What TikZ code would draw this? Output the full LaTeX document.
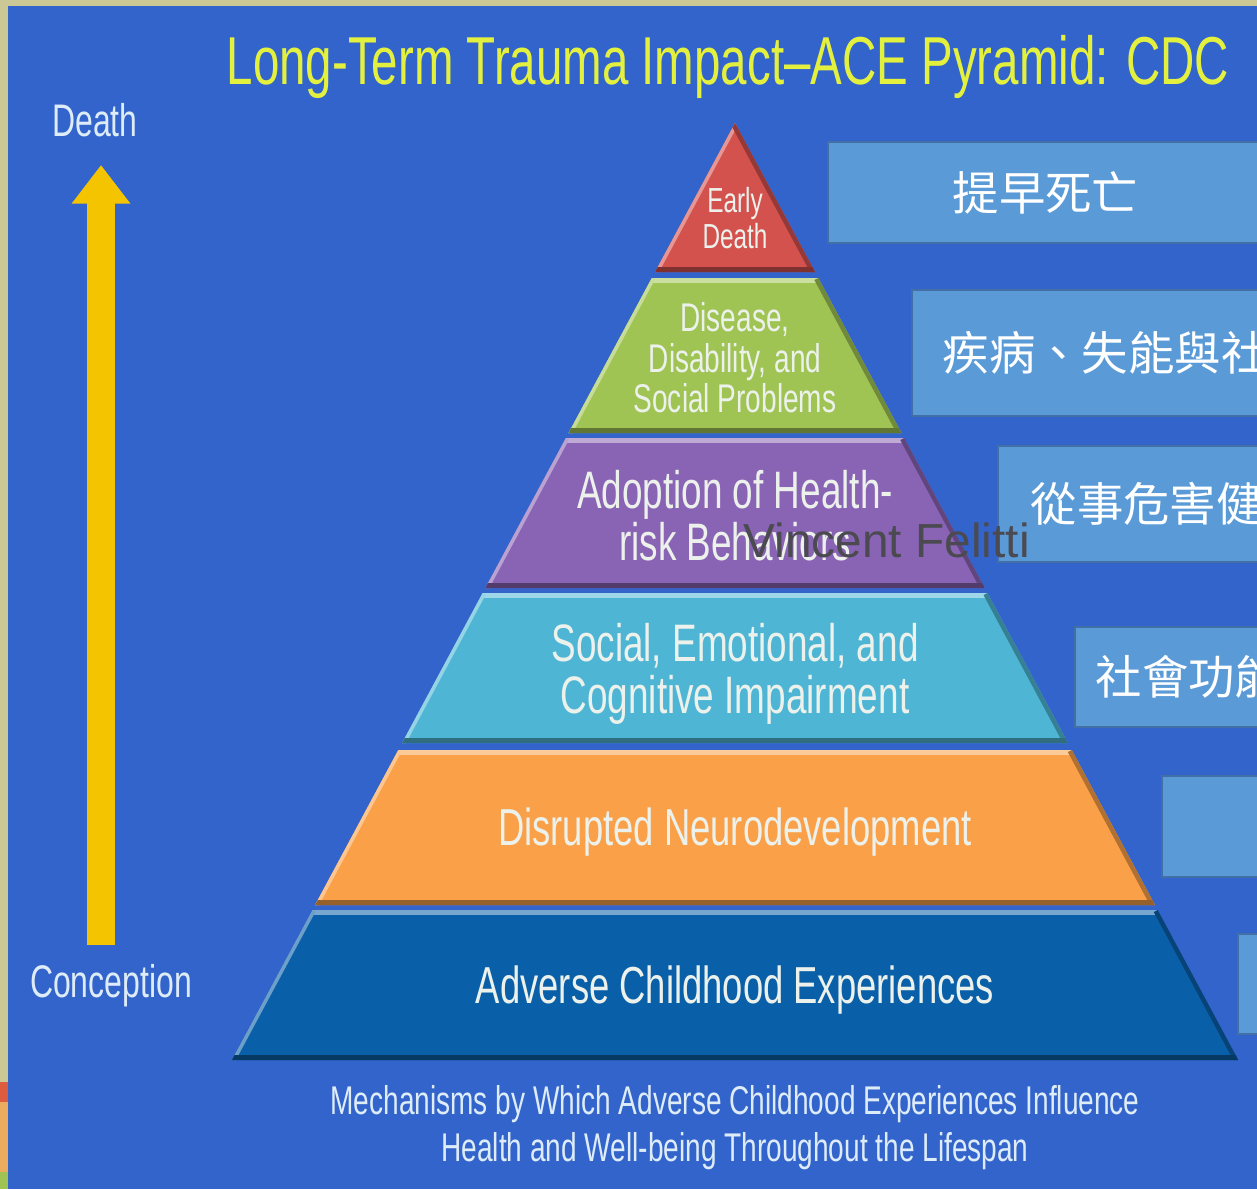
\documentclass[tikz,border=0pt]{standalone}
\usepackage{fontspec}
\setmainfont{Liberation Sans}
\newfontfamily\narrowfont[FakeStretch=0.7]{Liberation Sans}
\newfontfamily\cjkfont{Noto Sans CJK TC}
\usepackage{tikz}
\usetikzlibrary{positioning, arrows.meta}

\definecolor{slideblue}{RGB}{50,100,204}
\definecolor{slideedge}{RGB}{204,200,150}
\definecolor{titleyellow}{RGB}{228,240,62}
\definecolor{lifeyellow}{RGB}{245,196,0}
\definecolor{labelwhite}{RGB}{222,236,248}
\definecolor{layerwhite}{RGB}{236,241,236}
\definecolor{deathred}{RGB}{212,82,78}
\definecolor{diseasegreen}{RGB}{160,196,84}
\definecolor{riskpurple}{RGB}{138,100,180}
\definecolor{impaircyan}{RGB}{78,182,212}
\definecolor{neuroorange}{RGB}{250,160,72}
\definecolor{aceblue}{RGB}{10,96,168}
\definecolor{boxfill}{RGB}{90,155,215}
\definecolor{boxedge}{RGB}{66,112,166}
\definecolor{markgray}{RGB}{74,74,80}

\tikzstyle{titletext} = [font={\narrowfont\fontsize{19.3}{19.3}\selectfont}, text=titleyellow, inner sep=0pt]
\tikzstyle{sidelabel} = [font={\narrowfont\fontsize{13}{13}\selectfont}, text=labelwhite, inner sep=0pt]
\tikzstyle{layertext} = [align=center, text=layerwhite, inner sep=0pt]
\tikzstyle{rbox} = [rectangle, draw=boxedge, fill=boxfill, line width=0.6pt, minimum width=5cm, anchor=north west]
\tikzstyle{cjktext} = [font={\cjkfont\fontsize{13.2}{14}\selectfont}, text=white, inner sep=0pt]
\tikzstyle{arrow} = [draw=lifeyellow, line width=8pt, -{Triangle[width=16pt,length=11pt]}]

\begin{document}
\begin{tikzpicture}[y=-1cm]
        \useasboundingbox (0,0) rectangle (12.57,11.89);
        \clip (0,0) rectangle (12.57,11.89);

        % Slide background
        \fill[slideedge] (0,0) rectangle (12.57,11.89);
        \fill[slideblue] (0.08,0.06) rectangle (12.57,11.89);
        \fill[deathred!80!orange] (0,10.82) rectangle (0.08,11.02);
        \fill[neuroorange!70!slideedge] (0,11.02) rectangle (0.08,11.72);
        \fill[diseasegreen] (0,11.72) rectangle (0.08,11.89);

        % Title
        \node (title) [titletext] at (7.28,0.67) {Long-Term Trauma Impact–ACE Pyramid: CDC};

        % Pyramid layers
        \foreach \ya/\yb/\col in {1.23/2.72/deathred, 2.78/4.33/diseasegreen, 4.38/5.88/riskpurple,
                                  5.93/7.43/impaircyan, 7.50/9.05/neuroorange, 9.10/10.60/aceblue}{
          \pgfmathsetmacro\xa{0.537*(\ya-1.23)}
          \pgfmathsetmacro\xb{0.537*(\yb-1.23)}
          \begin{scope}
            \clip ({7.35-\xa},\ya) -- ({7.35+\xa},\ya) -- ({7.35+\xb},\yb) -- ({7.35-\xb},\yb) -- cycle;
            \fill[\col] (0,0) rectangle (12.57,11.89);
            \draw[\col!55!white, line width=3pt] ({7.35-\xa},\ya) -- ({7.35+\xa},\ya);
            \draw[\col!60!white, line width=2pt] ({7.35-\xb},\yb) -- ({7.35-\xa},\ya);
            \draw[\col!70!black, line width=2.5pt] ({7.35+\xa},\ya) -- ({7.35+\xb},\yb);
            \draw[\col!60!black, line width=3pt] ({7.35-\xb},\yb) -- ({7.35+\xb},\yb);
          \end{scope}
        }

        % Layer labels
        \node (early) [layertext, font={\narrowfont\fontsize{9.9}{10.2}\selectfont}] at (7.35,2.18) {Early\\Death};
        \node (disease) [layertext, font={\narrowfont\fontsize{11.4}{11.5}\selectfont}] at (7.35,3.58) {Disease,\\Disability, and\\Social Problems};
        \node (adopt) [layertext, font={\narrowfont\fontsize{15}{14.8}\selectfont}] at (7.35,5.16) {Adoption of Health-\\risk Behaviors};
        \node (impair) [layertext, font={\narrowfont\fontsize{15}{14.8}\selectfont}] at (7.35,6.74) {Social, Emotional, and\\Cognitive Impairment};
        \node (neuro) [layertext, font={\narrowfont\fontsize{14.8}{15}\selectfont}] at (7.35,8.32) {Disrupted Neurodevelopment};
        \node (ace) [layertext, font={\narrowfont\fontsize{14.8}{15}\selectfont}] at (7.35,9.90) {Adverse Childhood Experiences};

        % Caption
        \node (caption) [layertext, text=labelwhite, font={\narrowfont\fontsize{11.4}{13.4}\selectfont}] at (7.35,11.28)
          {Mechanisms by Which Adverse Childhood Experiences Influence\\Health and Well-being Throughout the Lifespan};

        % Lifespan arrow
        \node (death) [sidelabel] at (0.95,1.20) {Death};
        \node (concep) [sidelabel] at (1.11,9.86) {Conception};
        \coordinate (lifebase) at (1.01,9.45);
        \coordinate (lifetip) at (1.01,1.65);
        \draw [arrow] (lifebase) -- (lifetip);

        % Chinese side boxes
        \node (box1) [rbox, minimum height=1.01cm] at (8.27,1.41) {};
        \node (box2) [rbox, minimum height=1.26cm] at (9.11,2.89) {};
        \node (box3) [rbox, minimum height=1.16cm] at (9.97,4.45) {};
        \node (box4) [rbox, minimum height=1.00cm] at (10.74,6.26) {};
        \node (box5) [rbox, minimum height=1.01cm] at (11.61,7.75) {};
        \node (box6) [rbox, minimum height=1.00cm] at (12.37,9.33) {};

        \node (t1) [cjktext, right=1.25cm of box1.west] {提早死亡};
        \node (t2) [cjktext, right=0.31cm of box2.west] {疾病、失能與社};
        \node (t3) [cjktext, right=0.33cm of box3.west] {從事危害健};
        \node (t4) [cjktext, right=0.21cm of box4.west] {社會功能};

        % Watermark
        \node (felitti) [anchor=base west, inner sep=0pt, text=markgray, font={\fontsize{13.6}{16}\selectfont}] at (7.43,5.57) {Vincent Felitti};

    \end{tikzpicture}
\end{document}
